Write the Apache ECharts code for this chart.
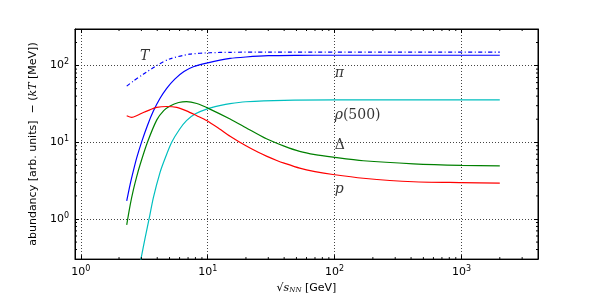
<!DOCTYPE html>
<html>
<head>
<meta charset="utf-8">
<script src="https://cdn.jsdelivr.net/npm/echarts@6/dist/echarts.min.js"></script>
<style>html,body{margin:0;padding:0;background:#fff;}#c{width:598px;height:299px;}</style>
</head>
<body>
<div id="c"></div>
<script>
// ---- data ----
const tX  = [2.3, 2.6, 3.1, 4.0, 5.0, 7.2, 10.4, 15, 30, 100, 2000];
const tY  = [54, 63, 77, 101, 122, 141, 147, 149, 150, 150, 150];

const piX = [2.3, 2.45, 2.6, 2.76, 3.02, 3.35, 3.73, 4.2, 4.75, 5.5, 6.5, 7.7, 10, 15, 20, 30, 50, 100, 2000];
const piY = [1.72, 2.85, 4.3, 6.3, 10.2, 16.6, 25.5, 37.2, 50.5, 66.7, 83.6, 96.5, 108.6, 124, 129.5, 134.5, 136, 136.5, 136.5];

const rhoX = [2.9, 3.0, 3.2, 3.45, 3.73, 4.2, 4.6, 5.2, 6.0, 6.8, 8.0, 9.8, 12.4, 15, 20, 40, 100, 2000];
const rhoY = [0.24, 0.32, 0.55, 1.0, 1.9, 4.0, 6.1, 10, 14.8, 19.2, 23.5, 27.1, 30, 32, 33.8, 35.3, 35.7, 35.7];

const deltaX = [2.3, 2.45, 2.6, 2.76, 2.93, 3.35, 3.97, 4.5, 5.05, 5.9, 6.8, 8.2, 10.4, 15, 20, 29, 40, 53, 70, 97, 168, 417, 1000, 2000];
const deltaY = [0.84, 1.53, 2.43, 3.6, 5.1, 10, 19.6, 25.9, 29.8, 33, 34, 32, 27.1, 20.1, 15.5, 11.1, 8.9, 7.6, 6.9, 6.4, 5.75, 5.24, 5.0, 4.93];

const pX = [2.3, 2.52, 2.8, 3.11, 3.5, 3.96, 4.75, 5.7, 6.8, 8.2, 9.8, 12.4, 15, 20, 25, 29, 35, 40, 53, 70, 97, 168, 417, 1000, 2000];
const pY = [22.2, 21.1, 22.5, 24.5, 26.5, 28.5, 29.3, 28.5, 25.7, 22.2, 19.2, 14.9, 12.0, 9.0, 7.4, 6.6, 5.8, 5.35, 4.6, 4.15, 3.8, 3.4, 3.06, 2.98, 2.93];

// curve annotations: [x, y, label]
const annotations = [
  [2.93, 131, 'T'],
  [100, 79, 'π'],
  [100, 22.6, 'ρ(500)'],
  [100, 9.25, 'Δ'],
  [100, 2.44, 'p']
];

// axis limits and minor tick values
const X_MIN = 0.9, X_MAX = 4000, Y_MIN = 0.3, Y_MAX = 300;
const xMinor = [2,3,4,5,6,7,8,9,20,30,40,50,60,70,80,90,200,300,400,500,600,700,800,900,2000,3000];
const yMinor = [0.4,0.5,0.6,0.7,0.8,0.9,2,3,4,5,6,7,8,9,20,30,40,50,60,70,80,90,200];

const zip = (a, b) => a.map((v, i) => [v, b[i]]);

const chart = echarts.init(document.getElementById('c'), null, {renderer: 'canvas'});

const supFmt = v => {
  const e = Math.round(Math.log10(v));
  return '{b|10}{s|' + e + '}';
};
const labelRich = {
  b: {fontFamily: 'DejaVu Sans', fontSize: 11, color: '#000'},
  s: {fontFamily: 'DejaVu Sans', fontSize: 8, color: '#000', padding: [0, 0, 7, 0]}
};
const baseLog = {
  type: 'log', logBase: 10,
  axisLine: {show: true, onZero: false, lineStyle: {color: '#000', width: 1}},
  axisTick: {show: true, inside: true, length: 4, lineStyle: {color: '#000', width: 1}},
  splitLine: {show: false},
  axisLabel: {show: false}
};

const lineSeries = (name, data, color, extra) => Object.assign({
  name, type: 'line', data, showSymbol: false, symbol: 'none', smooth: 0.25,
  lineStyle: {color, width: 1.2}, clip: true, silent: true, z: 3
}, extra || {});

chart.setOption({
  animation: false,
  backgroundColor: '#fff',
  grid: {left: 75, right: 60, top: 29, bottom: 38, show: true, borderColor: '#000', borderWidth: 1, backgroundColor: 'transparent'},
  xAxis: [
    Object.assign({}, baseLog, {
      position: 'bottom', min: X_MIN, max: X_MAX,
      splitLine: {show: true, lineStyle: {color: '#444', width: 1, type: [1, 2]}},
      axisLabel: {show: true, margin: 6, showMinLabel: false, showMaxLabel: false, formatter: supFmt, rich: labelRich},
      name: '√{s|s}{sub|NN} [GeV]', nameLocation: 'middle', nameGap: 23,
      nameTextStyle: {fontFamily: 'DejaVu Sans', fontSize: 11, color: '#000',
        rich: {
          s: {fontFamily: 'DejaVu Serif', fontStyle: 'italic', fontSize: 11, color: '#000'},
          sub: {fontFamily: 'DejaVu Serif', fontStyle: 'italic', fontSize: 7, color: '#000', padding: [4, 0, 0, 0]}
        }}
    }),
    Object.assign({}, baseLog, {position: 'top', min: X_MIN, max: X_MAX})
  ],
  yAxis: [
    Object.assign({}, baseLog, {
      position: 'left', min: Y_MIN, max: Y_MAX,
      splitLine: {show: true, lineStyle: {color: '#444', width: 1, type: [1, 2]}},
      axisLabel: {show: true, margin: 6, showMinLabel: false, showMaxLabel: false, formatter: supFmt, rich: labelRich},
      name: 'abundancy [arb. units]  − ({i|kT} [MeV])', nameLocation: 'middle', nameGap: 29, nameRotate: 90,
      nameTextStyle: {fontFamily: 'DejaVu Sans', fontSize: 11, color: '#000',
        rich: {i: {fontFamily: 'DejaVu Serif', fontStyle: 'italic', fontSize: 11, color: '#000'}}}
    }),
    Object.assign({}, baseLog, {position: 'right', min: Y_MIN, max: Y_MAX})
  ],
  series: [
    lineSeries('T', zip(tX, tY), '#0000ff', {lineStyle: {color: '#0000ff', width: 1.2, type: [4, 2.5, 1, 2.5]}}),
    lineSeries('pi', zip(piX, piY), '#0000ff'),
    lineSeries('rho', zip(rhoX, rhoY), '#00bfbf'),
    lineSeries('delta', zip(deltaX, deltaY), '#008000'),
    lineSeries('p', zip(pX, pY), '#ff0000'),
    {
      type: 'scatter', silent: true, symbolSize: 0, z: 5,
      data: annotations,
      label: {
        show: true, position: 'right', distance: 0, color: '#000',
        formatter: p => {
          const t = p.value[2];
          if (t === 'ρ(500)') return '{i|ρ}{u|(500)}';
          if (t === 'Δ') return '{u|Δ}';
          return '{i|' + t + '}';
        },
        rich: {
          i: {fontFamily: 'DejaVu Serif', fontStyle: 'italic', fontSize: 14, color: '#000'},
          u: {fontFamily: 'DejaVu Serif', fontSize: 14, color: '#000'}
        }
      }
    },
    {
      type: 'custom', silent: true, clip: false, z: 4,
      data: xMinor.map(v => [v, Y_MIN]),
      renderItem: (params, api) => {
        const v = api.value(0);
        const b = api.coord([v, Y_MIN]);
        const t = api.coord([v, Y_MAX]);
        const st = {stroke: '#000', lineWidth: 1};
        return {type: 'group', children: [
          {type: 'line', shape: {x1: b[0], y1: b[1], x2: b[0], y2: b[1] - 2}, style: st},
          {type: 'line', shape: {x1: t[0], y1: t[1], x2: t[0], y2: t[1] + 2}, style: st}
        ]};
      }
    },
    {
      type: 'custom', silent: true, clip: false, z: 4,
      data: yMinor.map(v => [X_MIN, v]),
      renderItem: (params, api) => {
        const v = api.value(1);
        const l = api.coord([X_MIN, v]);
        const r = api.coord([X_MAX, v]);
        const st = {stroke: '#000', lineWidth: 1};
        return {type: 'group', children: [
          {type: 'line', shape: {x1: l[0], y1: l[1], x2: l[0] + 2, y2: l[1]}, style: st},
          {type: 'line', shape: {x1: r[0], y1: r[1], x2: r[0] - 2, y2: r[1]}, style: st}
        ]};
      }
    }
  ]
});
</script>
</body>
</html>
